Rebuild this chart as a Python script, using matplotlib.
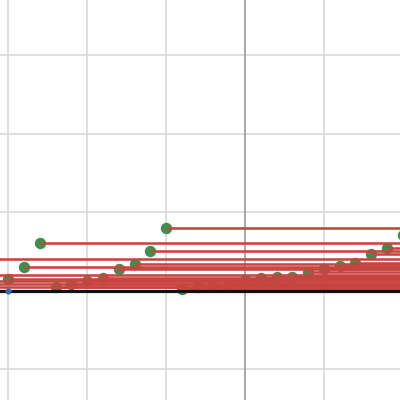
import matplotlib
matplotlib.use("Agg")
import matplotlib.pyplot as plt
import numpy as np

# x positions of the points (off-screen ones on the left included)
x_vals = [-4.0, -3.8, -3.6, -3.4, -3.2,
          -3.0, -2.8, -2.6, -2.4, -2.2, -2.0, -1.8, -1.6, -1.4, -1.2, -1.0,
          -0.8, -0.6, -0.4, -0.2, 0.0, 0.2, 0.4, 0.6, 0.8, 1.0,
          1.2, 1.4, 1.6, 1.8, 2.0]
y_vals = [0.05, 0.085, 0.118, 0.20, 0.405,
          0.143, 0.30, 0.60, 0.045, 0.087, 0.121, 0.155, 0.27, 0.338, 0.50, 0.80,
          0.02, 0.042, 0.062, 0.08, 0.134, 0.16, 0.168, 0.176, 0.24, 0.274,
          0.316, 0.346, 0.465, 0.538, 0.707]
origin_point = (-3.0, 0.0)

GREEN = "#3f8f4a"
RED = "#c74440"
BLUE = "#2d70b3"

fig = plt.figure(figsize=(4, 4), dpi=100)
ax = fig.add_axes([0, 0, 1, 1])
xmin, xmax = -245 / 78.9, 155 / 78.9
ymin, ymax = -109.5 / 78.5, 290.5 / 78.5
ax.set_xlim(xmin, xmax)
ax.set_ylim(ymin, ymax)

for gx in [-3, -2, -1, 1]:
    ax.axvline(gx, color="#d9d9d9", lw=1.2, zorder=0)
for gy in [-1, 1, 2, 3]:
    ax.axhline(gy, color="#d9d9d9", lw=1.2, zorder=0)
ax.axvline(0, color="#999999", lw=1.2, zorder=1)

ax.scatter(x_vals, y_vals, s=(8.2) ** 2, color=GREEN, zorder=2, linewidths=0)
ax.hlines(y_vals, x_vals, [xmax + 1] * len(x_vals), color=RED, lw=1.85, zorder=3)
ax.axhline(0, color="#111111", lw=2.3, zorder=4)
ax.scatter([origin_point[0]], [origin_point[1]], s=(4.5) ** 2, color=BLUE, zorder=5, linewidths=0)

ax.set_xticks([])
ax.set_yticks([])
for s in ax.spines.values():
    s.set_visible(False)

fig.savefig("out.png", dpi=100)
